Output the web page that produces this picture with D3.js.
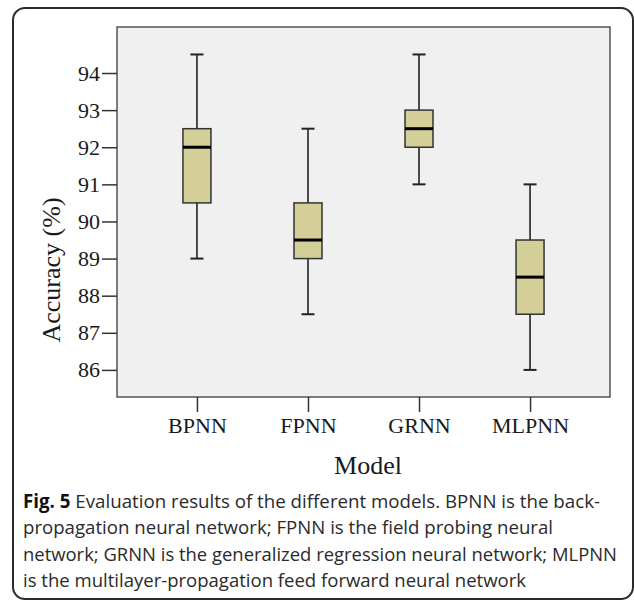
<!DOCTYPE html>
<html>
<head>
<meta charset="utf-8">
<script src="https://cdn.jsdelivr.net/npm/d3@7"></script>
<style>
  body { margin: 0; background: #fff; }
  svg { display: block; }
</style>
</head>
<body>
<div id="chart"></div>
<script>
var width = 634, height = 601;

// box plot data
var models = ["BPNN", "FPNN", "GRNN", "MLPNN"];
var mins    = [89,   87.5, 91,   86];
var q1s     = [90.5, 89,   92,   87.5];
var medians = [92,   89.5, 92.5, 88.5];
var q3s     = [92.5, 90.5, 93,   89.5];
var maxs    = [94.5, 92.5, 94.5, 91];
var yTicks  = [86, 87, 88, 89, 90, 91, 92, 93, 94];

var captionLines = [
  "Evaluation results of the different models. BPNN is the back-",
  "propagation neural network; FPNN is the field probing neural",
  "network; GRNN is the generalized regression neural network; MLPNN",
  "is the multilayer-propagation feed forward neural network"
];

var boxes = models.map(function(m, i) {
  return { name: m, min: mins[i], q1: q1s[i], med: medians[i], q3: q3s[i], max: maxs[i] };
});

var plot = { left: 117, right: 610, top: 27, bottom: 397 };

var svg = d3.select("#chart").append("svg")
  .attr("width", width)
  .attr("height", height);

// outer rounded frame
svg.append("rect")
  .attr("x", 13).attr("y", 8)
  .attr("width", 620).attr("height", 591)
  .attr("rx", 12)
  .attr("fill", "none")
  .attr("stroke", "#2b2b2b")
  .attr("stroke-width", 2);

var x = d3.scalePoint()
  .domain(models)
  .range([plot.left, plot.right])
  .padding(0.72);

var y = d3.scaleLinear()
  .domain([85.27, 95.24])
  .range([plot.bottom, plot.top]);

// plot background
svg.append("rect")
  .attr("x", plot.left).attr("y", plot.top)
  .attr("width", plot.right - plot.left)
  .attr("height", plot.bottom - plot.top)
  .attr("fill", "#f0f0f0")
  .attr("stroke", "#3a3a3a")
  .attr("stroke-width", 1.3);

// axes
var yAxis = svg.append("g")
  .attr("transform", "translate(" + plot.left + ",0)")
  .call(d3.axisLeft(y).tickValues(yTicks).tickSize(15).tickPadding(2));

var xAxis = svg.append("g")
  .attr("transform", "translate(0," + plot.bottom + ")")
  .call(d3.axisBottom(x).tickSize(15).tickPadding(5));

[yAxis, xAxis].forEach(function(ax) {
  ax.select(".domain").remove();
  ax.selectAll(".tick line").attr("stroke", "#333").attr("stroke-width", 1.5);
  ax.selectAll(".tick text")
    .attr("fill", "#1a1a1a")
    .style("font-family", "'Liberation Serif', 'DejaVu Serif', serif")
    .style("font-size", "22px");
});

// boxes
var boxW = 28, capW = 13;
var g = svg.selectAll(".box")
  .data(boxes)
  .enter().append("g")
  .attr("class", "box");

g.append("line")
  .attr("x1", function(d) { return x(d.name); })
  .attr("x2", function(d) { return x(d.name); })
  .attr("y1", function(d) { return y(d.max); })
  .attr("y2", function(d) { return y(d.min); })
  .attr("stroke", "#222")
  .attr("stroke-width", 1.6);

["min", "max"].forEach(function(k) {
  g.append("line")
    .attr("x1", function(d) { return x(d.name) - capW / 2; })
    .attr("x2", function(d) { return x(d.name) + capW / 2; })
    .attr("y1", function(d) { return y(d[k]); })
    .attr("y2", function(d) { return y(d[k]); })
    .attr("stroke", "#222")
    .attr("stroke-width", 2);
});

g.append("rect")
  .attr("x", function(d) { return x(d.name) - boxW / 2; })
  .attr("y", function(d) { return y(d.q3); })
  .attr("width", boxW)
  .attr("height", function(d) { return y(d.q1) - y(d.q3); })
  .attr("fill", "#d4ce98")
  .attr("stroke", "#333")
  .attr("stroke-width", 1.5);

g.append("line")
  .attr("x1", function(d) { return x(d.name) - boxW / 2; })
  .attr("x2", function(d) { return x(d.name) + boxW / 2; })
  .attr("y1", function(d) { return y(d.med); })
  .attr("y2", function(d) { return y(d.med); })
  .attr("stroke", "#000")
  .attr("stroke-width", 3);

// axis titles
svg.append("text")
  .attr("transform", "translate(60,270) rotate(-90)")
  .attr("text-anchor", "middle")
  .style("font-family", "'Liberation Serif', serif")
  .style("font-size", "26px")
  .attr("fill", "#1a1a1a")
  .text("Accuracy (%)");

svg.append("text")
  .attr("x", 368).attr("y", 474)
  .attr("text-anchor", "middle")
  .style("font-family", "'Liberation Serif', serif")
  .style("font-size", "26px")
  .attr("fill", "#1a1a1a")
  .text("Model");

// caption
var capWidths = [577, 530, 594, 503];
var cap = svg.append("g")
  .style("font-family", "'Open Sans', 'Noto Sans', sans-serif")
  .style("font-size", "19px")
  .attr("fill", "#2a2a2a");

captionLines.forEach(function(line, i) {
  var t = cap.append("text")
    .attr("x", 23)
    .attr("y", 508 + i * 26.3)
    .attr("textLength", capWidths[i])
    .attr("lengthAdjust", "spacingAndGlyphs");
  if (i === 0) {
    t.append("tspan").style("font-weight", "bold").attr("fill", "#111").text("Fig. 5");
    t.append("tspan").text(" " + line);
  } else {
    t.text(line);
  }
});
</script>
</body>
</html>
